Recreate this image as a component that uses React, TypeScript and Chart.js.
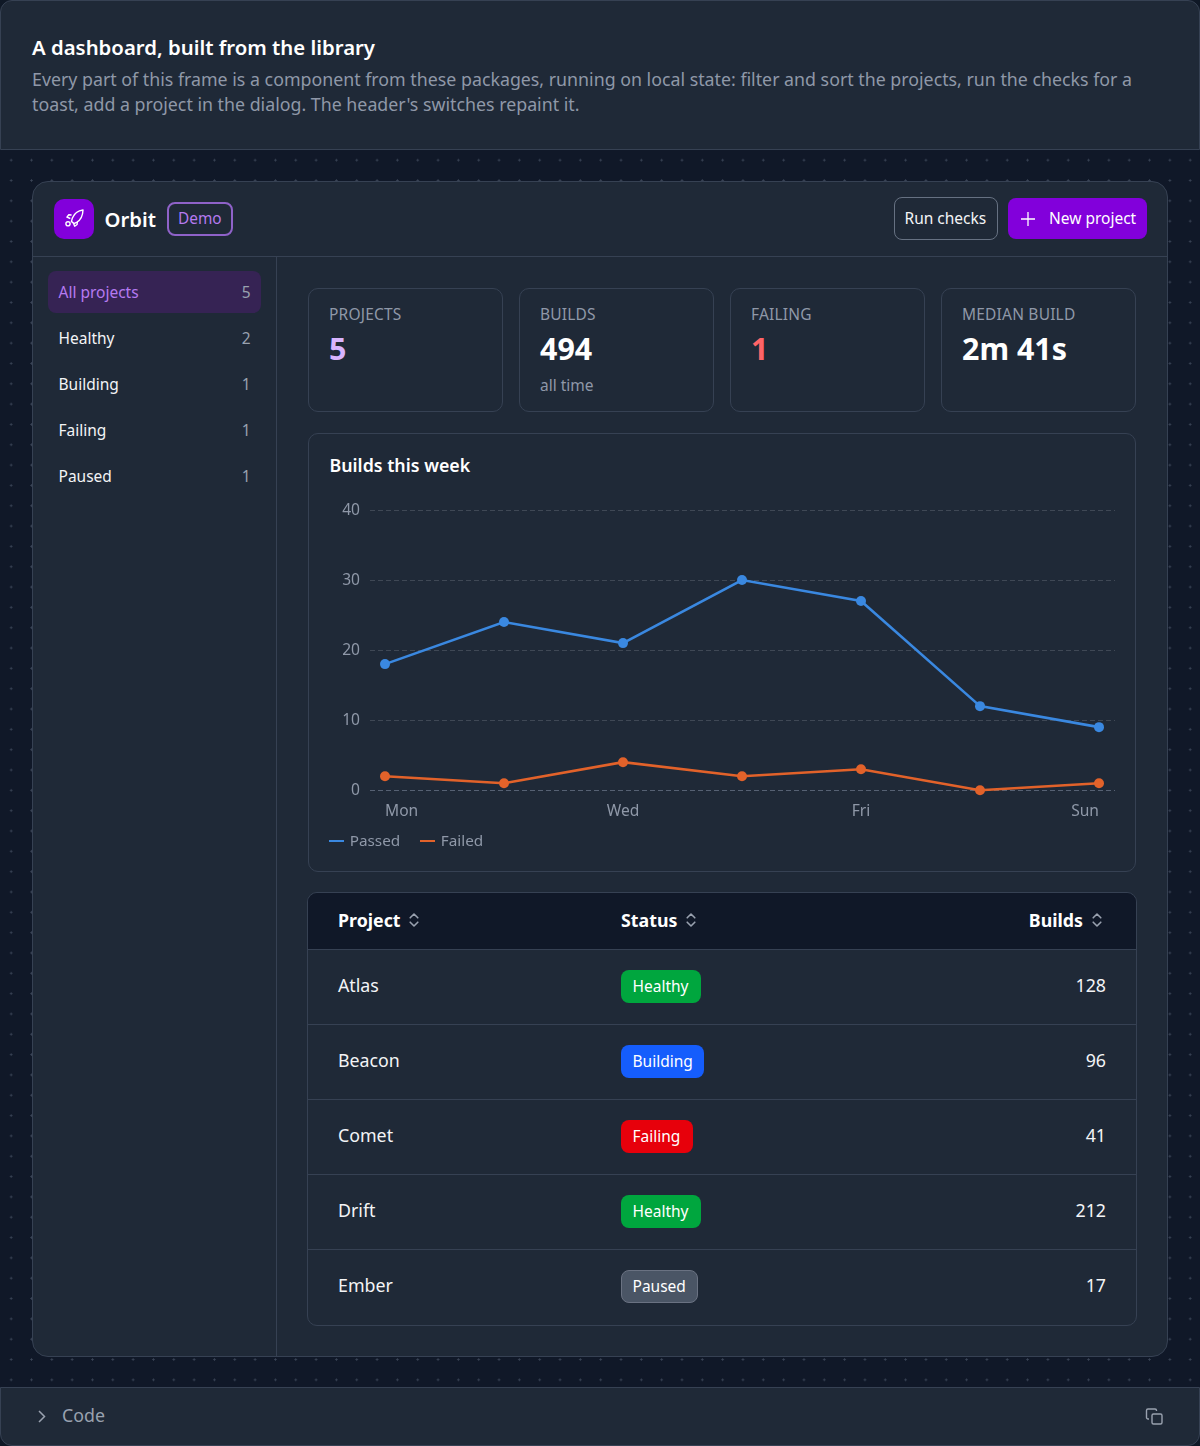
import React, { useEffect, useRef } from "react";
import { Chart, registerables } from "chart.js";

Chart.register(...registerables);

const days = ["Mon", "Tue", "Wed", "Thu", "Fri", "Sat", "Sun"];
const passed = [18, 24, 21, 30, 27, 12, 9];
const failed = [2, 1, 4, 2, 3, 0, 1];
const yTicks = [0, 10, 20, 30, 40];
const shownDays = [0, 2, 4, 6];

const navItems = [
  ["All projects", "5"],
  ["Healthy", "2"],
  ["Building", "1"],
  ["Failing", "1"],
  ["Paused", "1"],
];
const rows = [
  ["Atlas", "Healthy", "128"],
  ["Beacon", "Building", "96"],
  ["Comet", "Failing", "41"],
  ["Drift", "Healthy", "212"],
  ["Ember", "Paused", "17"],
];
const stats = [
  ["PROJECTS", "5", "", "#d8b4fe"],
  ["BUILDS", "494", "all time", "#ffffff"],
  ["FAILING", "1", "", "#ff6467"],
  ["MEDIAN BUILD", "2m 41s", "", "#ffffff"],
];
const badgeStyles: Record<string, [string, number]> = {
  Healthy: ["#00a63e", 80],
  Building: ["#155dfc", 83],
  Failing: ["#e7000b", 72],
  Paused: ["#4a5565", 77],
};

const FONT = '"Noto Sans", sans-serif';
const PANEL = "#1f2937";
const LINE = "#364153";
const BLUE = "#3a88e0";
const ORANGE = "#e2622a";
const MUTED = "#8f98a8";

function Box({ x, y, w, h, style, children }: any) {
  return (
    <div style={{ position: "absolute", left: x, top: y, width: w, height: h, boxSizing: "border-box", ...style }}>
      {children}
    </div>
  );
}

function Text({ x, cy, size, color, weight, right, spacing, children }: any) {
  const s: any = {
    position: "absolute",
    top: cy - 15,
    height: 30,
    lineHeight: "30px",
    fontSize: size,
    color,
    fontWeight: weight || 400,
    whiteSpace: "nowrap",
    letterSpacing: spacing,
  };
  if (right !== undefined) s.right = 1200 - right;
  else s.left = x;
  return <div style={s}>{children}</div>;
}

function Sort({ x, cy }: any) {
  return (
    <svg style={{ position: "absolute", left: x, top: cy - 9 }} width="12" height="18" viewBox="0 0 12 18" fill="none" stroke="#99a1af" strokeWidth="1.6" strokeLinecap="round" strokeLinejoin="round">
      <path d="M2.2 6.8 6 3l3.8 3.8M2.2 11.2 6 15l3.8-3.8" />
    </svg>
  );
}

function legendDash(color: string) {
  const c = document.createElement("canvas");
  c.width = 15;
  c.height = 2;
  const g = c.getContext("2d")!;
  g.fillStyle = color;
  g.fillRect(0, 0, 15, 2);
  return c;
}

function BuildsChart() {
  const ref = useRef<HTMLCanvasElement>(null);
  useEffect(() => {
    const chart = new Chart(ref.current!, {
      type: "line",
      data: {
        datasets: [
          {
            label: "Passed",
            data: passed.map((y, x) => ({ x, y })),
            borderColor: BLUE,
            backgroundColor: BLUE,
            borderWidth: 2.6,
            pointRadius: 5,
            pointBorderWidth: 0,
            pointStyle: "circle",
            clip: false,
            tension: 0,
          },
          {
            label: "Failed",
            data: failed.map((y, x) => ({ x, y })),
            borderColor: ORANGE,
            backgroundColor: ORANGE,
            borderWidth: 2.6,
            pointRadius: 5,
            pointBorderWidth: 0,
            pointStyle: "circle",
            clip: false,
            tension: 0,
          },
        ],
      } as any,
      options: {
        animation: false,
        responsive: false,
        devicePixelRatio: 1,
        layout: { padding: { top: 20, right: 20, left: 0, bottom: 0 } },
        plugins: {
          tooltip: { enabled: false },
          legend: {
            position: "bottom",
            align: "start",
            labels: {
              color: MUTED,
              font: { family: FONT, size: 15.3 },
              padding: 21,
              usePointStyle: true,
              pointStyleWidth: 12,
              generateLabels: (c: any) =>
                c.data.datasets.map((d: any, i: number) => ({
                  text: d.label,
                  fontColor: MUTED,
                  strokeStyle: d.borderColor,
                  fillStyle: d.borderColor,
                  lineWidth: 0,
                  pointStyle: legendDash(d.borderColor),
                  datasetIndex: i,
                })),
            },
          },
        },
        scales: {
          x: {
            type: "linear",
            min: -15 / 119,
            max: 6 + 16 / 119,
            afterFit: (s: any) => {
              s.height = 22.5;
            },
            afterBuildTicks: (s: any) => {
              s.ticks = shownDays.map((value) => ({ value }));
            },
            grid: { display: false, drawTicks: false },
            border: { display: false },
            ticks: {
              color: MUTED,
              padding: 12,
              maxRotation: 0,
              autoSkip: false,
              font: { family: FONT, size: 15.6 },
              callback: (v: any) => days[v],
            },
          },
          y: {
            min: yTicks[0],
            max: yTicks[yTicks.length - 1],
            afterFit: (s: any) => {
              s.width = 61;
            },
            grid: {
              color: (ctx: any) => (ctx.tick && ctx.tick.value === 0 ? "#566173" : "rgba(153,161,175,0.26)"),
              drawTicks: false,
            },
            border: { display: false, dash: [5, 3] },
            ticks: {
              color: MUTED,
              padding: 10,
              stepSize: 10,
              font: { family: FONT, size: 15.6 },
            },
          },
        },
      } as any,
      plugins: [
        {
          id: "edgeLabels",
          beforeDraw(c: any) {
            const x = c.scales.x;
            x.bottom = c.height;
            const items = x.getLabelItems();
            if (items.length) {
              items[0].options.textAlign = "left";
              items[items.length - 1].options.textAlign = "right";
            }
            if (!c.$shifted) {
              c.$shifted = true;
              c.scales.y.getLabelItems().forEach((it: any) => {
                it.options.translation = [it.options.translation[0], it.options.translation[1] + 0.5];
              });
            }
          },
        },
      ],
    });
    return () => chart.destroy();
  }, []);
  return <canvas ref={ref} width={826} height={369} style={{ position: "absolute", left: 309, top: 490, width: 826, height: 369, display: "block" }} />;
}

export default function App() {
  return (
    <div style={{ position: "absolute", left: 0, top: 0, width: 1200, height: 1446, overflow: "hidden", background: "#0f1826", fontFamily: FONT }}>
      <Box
        x={0}
        y={150}
        w={1200}
        h={1238}
        style={{
          background: "#101828",
          backgroundImage: "radial-gradient(circle at center, #3a4456 0.9px, transparent 1.2px)",
          backgroundSize: "20.33px 20.33px",
          backgroundPosition: "1px 0px",
        }}
      />
      <Box x={0} y={0} w={1200} h={150} style={{ background: PANEL, border: `1px solid ${LINE}`, borderRadius: "12px 12px 0 0" }} />
      <Text x={32} cy={46.5} size={20.35} color="#ffffff" weight={600}>A dashboard, built from the library</Text>
      <Text x={32} cy={78.5} size={17.8} color={MUTED}>Every part of this frame is a component from these packages, running on local state: filter and sort the projects, run the checks for a</Text>
      <Text x={32} cy={103.5} size={17.8} color={MUTED}>toast, add a project in the dialog. The header's switches repaint it.</Text>

      <Box x={32} y={181} w={1136} h={1176} style={{ background: PANEL, border: `1px solid ${LINE}`, borderRadius: 16 }} />
      <Box x={33} y={256} w={1134} h={1} style={{ background: LINE }} />
      <Box x={276} y={257} w={1} h={1099} style={{ background: LINE }} />

      <Box x={54} y={199} w={40} h={40} style={{ background: "#8200db", borderRadius: 10 }} />
      <svg style={{ position: "absolute", left: 63, top: 208 }} width="22" height="22" viewBox="0 0 22 22" fill="none" stroke="#fff" strokeWidth="1.4" strokeLinejoin="round">
        <path d="M20 2c-4.6.6-8.6 3.2-10.6 8l-1 3.4 2.6 2.2 3-1.4C18 11.600 19.800 7 20 2Z" />
        <path d="M8.600 7 5.800 6.800 3.900 9.200l3.400 1.300M14.300 14l-.2 2.500-2.400 1.700-1-2.500" />
        <circle cx="5" cy="15.800" r="2.100" />
      </svg>
      <Text x={104.5} cy={219} size={20.3} color="#ffffff" weight={600}>Orbit</Text>
      <Box x={166.5} y={202} w={66.5} h={34} style={{ border: "2px solid #8f62c9", borderRadius: 8 }} />
      <Text x={178} cy={219} size={15.4} color="#b57af0">Demo</Text>

      <Box x={894} y={197} w={104} h={43} style={{ border: "1px solid #667182", borderRadius: 8 }} />
      <Text x={904.5} cy={218} size={15.5} color="#f3f4f6">Run checks</Text>
      <Box x={1008} y={198} w={139} h={41} style={{ background: "#8200db", borderRadius: 8 }} />
      <svg style={{ position: "absolute", left: 1020, top: 211 }} width="16" height="16" viewBox="0 0 16 16" stroke="#fff" strokeWidth="1.3">
        <path d="M8 1v14M1 8h14" />
      </svg>
      <Text x={1049} cy={218} size={15.5} color="#ffffff">New project</Text>

      <Box x={48} y={271} w={213} h={42} style={{ background: "#362354", borderRadius: 8 }} />
      {navItems.map(([label, count], i) => (
        <React.Fragment key={label}>
          <Text x={58.5} cy={291.5 + i * 46} size={15.5} color={i === 0 ? "#b57af0" : "#f3f4f6"}>{label}</Text>
          <Text right={250.5} cy={291.5 + i * 46} size={15.5} color="#99a1af">{count}</Text>
        </React.Fragment>
      ))}

      {stats.map(([label, value, note, color], i) => (
        <React.Fragment key={label}>
          <Box x={308 + i * 211} y={288} w={195} h={124} style={{ border: `1px solid ${LINE}`, borderRadius: 10 }} />
          <Text x={329 + i * 211} cy={313.5} size={15.5} color={MUTED} spacing={0.2}>{label}</Text>
          <Text x={329 + i * 211} cy={349} size={30.4} color={color} weight={700}>{value}</Text>
          {note ? <Text x={329 + i * 211} cy={384.5} size={15.5} color={MUTED}>{note}</Text> : null}
        </React.Fragment>
      ))}

      <Box x={308} y={433} w={828} h={439} style={{ border: `1px solid ${LINE}`, borderRadius: 10 }} />
      <Text x={329.5} cy={465} size={17.8} color="#ffffff" weight={600}>Builds this week</Text>
      <BuildsChart />

      <Box x={307} y={892} w={830} h={434} style={{ border: `1px solid ${LINE}`, borderRadius: 10, overflow: "hidden" }}>
        <div style={{ position: "absolute", left: 0, top: 0, right: 0, height: 57, boxSizing: "border-box", background: "#101828", borderBottom: `1px solid ${LINE}` }} />
        {[131, 206, 281, 356].map((t) => (
          <div key={t} style={{ position: "absolute", left: 0, right: 0, top: t, height: 1, background: LINE }} />
        ))}
      </Box>
      <Text x={338} cy={919.5} size={17.8} color="#ffffff" weight={700}>Project</Text>
      <Sort x={408} cy={920} />
      <Text x={621} cy={919.5} size={17.8} color="#ffffff" weight={700}>Status</Text>
      <Sort x={685} cy={920} />
      <Text right={1083} cy={919.5} size={17.8} color="#ffffff" weight={700}>Builds</Text>
      <Sort x={1091} cy={920} />
      {rows.map(([name, status, builds], i) => {
        const cy = 986 + i * 75;
        const [bg, w] = badgeStyles[status];
        return (
          <React.Fragment key={name}>
            <Text x={338} cy={cy - 1} size={17.8} color="#f3f4f6">{name}</Text>
            <Box x={621} y={cy - 16} w={w} h={33} style={{ background: bg, borderRadius: 8, border: status === "Paused" ? "1px solid #6a7282" : undefined }} />
            <Text x={632.5} cy={cy} size={15.5} color="#ffffff">{status}</Text>
            <Text right={1106} cy={cy - 1} size={17.8} color="#f3f4f6">{builds}</Text>
          </React.Fragment>
        );
      })}

      <Box x={0} y={1387} w={1200} h={59} style={{ background: PANEL, border: `1px solid ${LINE}`, borderRadius: "0 0 12px 12px" }} />
      <svg style={{ position: "absolute", left: 36, top: 1409 }} width="12" height="15" viewBox="0 0 12 15" fill="none" stroke="#99a1af" strokeWidth="1.5">
        <path d="M3 2l5.5 5.5L3 13" />
      </svg>
      <Text x={62} cy={1415} size={17.8} color="#99a1af">Code</Text>
      <svg style={{ position: "absolute", left: 1145, top: 1407 }} width="19" height="19" viewBox="0 0 19 19" fill="none" stroke="#99a1af" strokeWidth="1.4" strokeLinejoin="round">
        <rect x="7" y="7" width="10" height="10" rx="1.5" />
        <path d="M4 12H3a1.5 1.5 0 0 1-1.5-1.5v-7A1.5 1.5 0 0 1 3 2h7a1.5 1.5 0 0 1 1.5 1.5V4" />
      </svg>
    </div>
  );
}
